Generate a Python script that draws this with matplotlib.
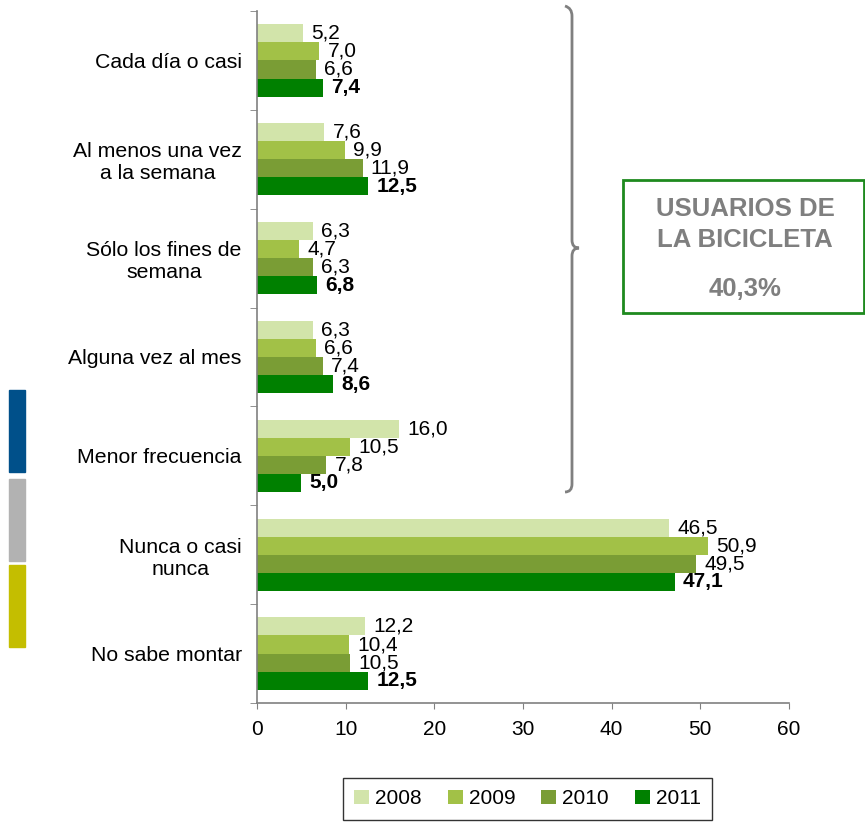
import numpy as np
import matplotlib
matplotlib.use("Agg")
import matplotlib.pyplot as plt
from matplotlib.patches import Rectangle, PathPatch
from matplotlib.path import Path

plt.rcParams['font.family'] = ['Liberation Sans', 'DejaVu Sans']

# data
categorias = ["Cada día o casi", "Al menos una vez\na la semana", "Sólo los fines de\nsemana",
              "Alguna vez al mes", "Menor frecuencia", "Nunca o casi\nnunca", "No sabe montar"]
anios = ["2008", "2009", "2010", "2011"]
v2008 = [5.2, 7.6, 6.3, 6.3, 16.0, 46.5, 12.2]
v2009 = [7.0, 9.9, 4.7, 6.6, 10.5, 50.9, 10.4]
v2010 = [6.6, 11.9, 6.3, 7.4, 7.8, 49.5, 10.5]
v2011 = [7.4, 12.5, 6.8, 8.6, 5.0, 47.1, 12.5]
series = [v2008, v2009, v2010, v2011]
colores = ["#d2e4aa", "#a2c147", "#7a9d35", "#008000"]

W, H = 865, 822
fig = plt.figure(figsize=(W / 100, H / 100), dpi=100)
ax = fig.add_axes([257 / W, 1 - 703 / H, (789 - 257) / W, (703 - 11) / H])

y = np.arange(len(categorias))
h = 0.183
for i, (vals, c) in enumerate(zip(series, colores)):
    pos = y + (i - 1.5) * h
    bars = ax.barh(pos, vals, height=h, color=c, label=anios[i])
    for b, v in zip(bars, vals):
        ax.annotate(f"{v:.1f}".replace(".", ","), (b.get_width(), b.get_y() + h / 2),
                    xytext=(6, 0), textcoords="offset points", va="center", ha="left",
                    fontsize=15, fontweight="bold" if i == 3 else "normal")

ax.set_xlim(0, 60)
ax.set_ylim(6.5, -0.5)
ax.set_xticks(range(0, 61, 10))
ax.set_yticks(y)
ax.set_yticklabels(categorias, multialignment="center")
ax.set_yticks(np.arange(-0.5, 7, 1), minor=True)
ax.tick_params(axis="y", which="major", length=0, pad=11, labelsize=15.3)
ax.tick_params(axis="y", which="minor", length=5, color="#808080", direction="out")
ax.tick_params(axis="x", length=4, color="#808080", labelsize=15, pad=8)
for s in ["top", "right"]:
    ax.spines[s].set_visible(False)
for s in ["left", "bottom"]:
    ax.spines[s].set_color("#808080")
    ax.spines[s].set_linewidth(1.2)

def fx(px):
    return px / W

def fy(py):
    return 1 - py / H

# coloured side markers
for (y0, y1), c in zip([(390, 472), (479, 561), (565, 647)], ["#00508a", "#b2b2b2", "#c4be00"]):
    fig.patches.append(Rectangle((fx(9), fy(y1)), fx(25) - fx(9), fy(y0) - fy(y1),
                                 transform=fig.transFigure, color=c))

# brace
pts = [(565, 6), (572, 8), (572, 16), (572, 240), (572, 248), (579, 248),
       (572, 248), (572, 256), (572, 484), (572, 492), (565, 492)]
codes = [Path.MOVETO, Path.CURVE3, Path.CURVE3, Path.LINETO, Path.CURVE3, Path.CURVE3,
         Path.CURVE3, Path.CURVE3, Path.LINETO, Path.CURVE3, Path.CURVE3]
brace = Path([(fx(a), fy(b)) for a, b in pts], codes)
fig.patches.append(PathPatch(brace, transform=fig.transFigure, fill=False,
                             edgecolor="#808080", linewidth=2))

# summary box
fig.patches.append(Rectangle((fx(623), fy(313)), fx(864) - fx(623), fy(180) - fy(313),
                             transform=fig.transFigure, fill=False, edgecolor="#1e8a1e", linewidth=2))
for txt, py in [("USUARIOS DE", 209), ("LA BICICLETA", 240), ("40,3%", 289)]:
    fig.text(fx(745), fy(py), txt, ha="center", va="center", fontsize=18.5,
             fontweight="bold", color="#7f7f7f")

leg = fig.legend(loc="upper left", bbox_to_anchor=(fx(343), fy(778)), ncol=4, fontsize=15,
                 frameon=True, fancybox=False, edgecolor="black", handlelength=0.7,
                 handleheight=0.7, handletextpad=0.3, columnspacing=1.25, borderpad=0.55,
                 borderaxespad=0)
leg.get_frame().set_linewidth(1)

fig.savefig("out.png", dpi=100)
